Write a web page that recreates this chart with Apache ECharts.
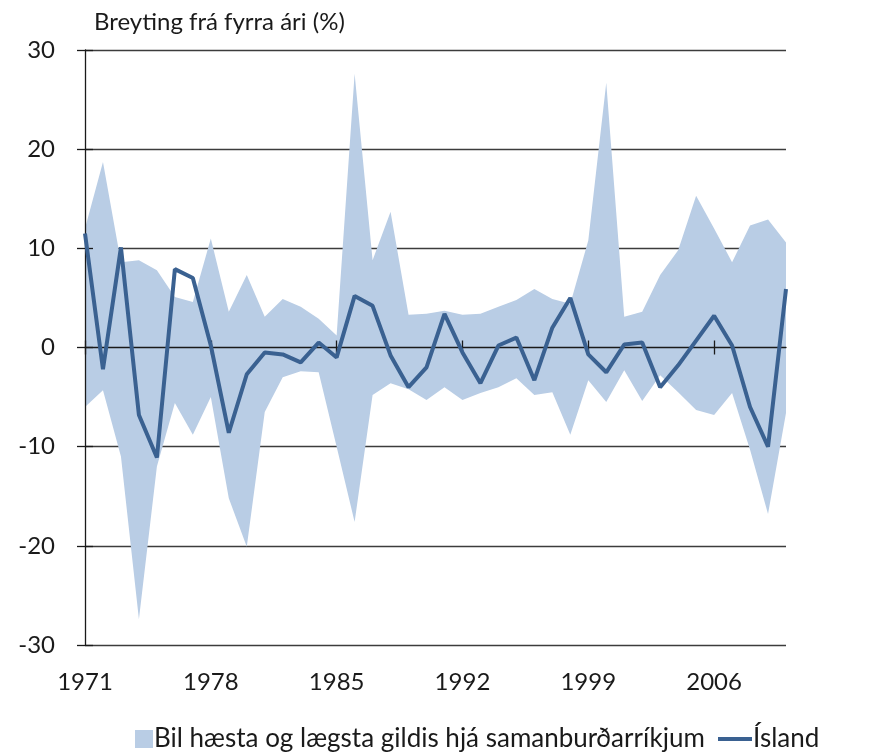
<!DOCTYPE html>
<html>
<head>
<meta charset="utf-8">
<script src="https://cdn.jsdelivr.net/npm/echarts@6/dist/echarts.min.js"></script>
<style>
html,body{margin:0;padding:0;background:#fff;}
#chart{width:883px;height:756px;}
</style>
</head>
<body>
<div id="chart"></div>
<script>
const years = ['1971','1972','1973','1974','1975','1976','1977','1978','1979','1980',
  '1981','1982','1983','1984','1985','1986','1987','1988','1989','1990',
  '1991','1992','1993','1994','1995','1996','1997','1998','1999','2000',
  '2001','2002','2003','2004','2005','2006','2007','2008','2009','2010'];

const iceland = [11.5,-2.2,10.1,-6.8,-11.1,7.9,7.0,0.2,-8.6,-2.7,
  -0.5,-0.7,-1.5,0.5,-1.0,5.2,4.2,-0.8,-4.0,-2.0,
  3.4,-0.5,-3.6,0.2,1.0,-3.3,2.0,5.0,-0.7,-2.5,
  0.3,0.5,-4.0,-1.8,0.7,3.2,0.2,-6.0,-10.0,5.9];

const bandUpper = [12.0,18.7,8.6,8.8,7.8,5.1,4.6,11.0,3.6,7.3,
  3.1,4.9,4.1,2.9,1.2,27.6,8.8,13.7,3.3,3.4,
  3.7,3.3,3.4,4.1,4.8,5.9,4.9,4.4,10.8,26.7,
  3.1,3.6,7.3,9.8,15.3,12.0,8.6,12.3,12.9,10.6];

const bandLower = [-6.0,-4.3,-11.0,-27.4,-12.0,-5.6,-8.8,-5.0,-15.2,-20.1,
  -6.5,-3.0,-2.4,-2.5,-10.0,-17.6,-4.8,-3.6,-4.2,-5.3,
  -4.0,-5.3,-4.6,-4.0,-3.1,-4.8,-4.5,-8.8,-3.3,-5.5,
  -2.3,-5.4,-2.8,-4.5,-6.3,-6.8,-4.6,-10.3,-16.8,-6.6];

const bandName = 'Bil hæsta og lægsta gildis hjá samanburðarríkjum';
const lineName = 'Ísland';
const yTitle = 'Breyting frá fyrra ári (%)';

const bandDiff = bandUpper.map((u, i) => +(u - bandLower[i]).toFixed(2));

const FONT = 'Lato';
const bandColor = '#b9cde5';
const lineColor = '#3a6191';
const axisColor = '#1a1a1a';
const gridColor = '#3c3c3c';
const textColor = '#1a1a1a';

const chart = echarts.init(document.getElementById('chart'), null, {renderer: 'canvas'});

const baseY = {type: 'value', min: -30, max: 30, interval: 10, gridIndex: 0};

chart.setOption({
  animation: false,
  backgroundColor: '#ffffff',
  textStyle: {fontFamily: FONT},
  title: {
    text: yTitle,
    left: 94, top: 6,
    padding: 0,
    textStyle: {fontFamily: FONT, fontSize: 24, fontWeight: 'normal', color: textColor, lineHeight: 32}
  },
  grid: {left: 85, right: 97, top: 50, bottom: 111, containLabel: false},
  legend: [
    {
      data: [{name: bandName, icon: 'rect'}],
      left: 135, top: 726, padding: 0,
      itemWidth: 18, itemHeight: 18, itemGap: 0,
      itemStyle: {borderWidth: 0},
      textStyle: {fontFamily: FONT, fontSize: 26, color: textColor, padding: [0,0,0,-4]},
      selectedMode: false
    },
    {
      data: [{name: lineName, icon: 'rect'}],
      left: 718, top: 726, padding: 0,
      itemWidth: 34, itemHeight: 4,
      itemStyle: {color: lineColor, borderWidth: 0},
      textStyle: {fontFamily: FONT, fontSize: 26, color: textColor, padding: [0,0,0,-4]},
      selectedMode: false
    }
  ],
  xAxis: [
    {
      type: 'category', data: years, boundaryGap: false, position: 'bottom',
      axisLine: {show: false, onZero: false},
      axisTick: {show: false},
      axisLabel: {interval: 6, fontFamily: FONT, fontSize: 24, color: textColor, margin: 25},
      splitLine: {show: false}
    },
    {
      type: 'category', data: years, boundaryGap: false, position: 'bottom', z: 10,
      axisLine: {show: true, onZero: true, lineStyle: {color: axisColor, width: 1.3}},
      axisTick: {show: true, interval: 6, inside: false, length: 7, lineStyle: {color: axisColor, width: 1.3}},
      axisLabel: {show: false},
      splitLine: {show: false}
    },
    {
      type: 'category', data: years, boundaryGap: false, position: 'bottom', z: 10,
      axisLine: {show: false, onZero: true},
      axisTick: {show: true, interval: 6, inside: true, length: 7, lineStyle: {color: axisColor, width: 1.3}},
      axisLabel: {show: false},
      splitLine: {show: false}
    }
  ],
  yAxis: [
    Object.assign({}, baseY, {
      position: 'left',
      axisLine: {show: false},
      axisTick: {show: false},
      axisLabel: {fontFamily: FONT, fontSize: 24, color: textColor, margin: 30},
      splitLine: {show: true, lineStyle: {color: gridColor, width: 1.3}}
    }),
    Object.assign({}, baseY, {
      position: 'left', z: 10,
      axisLine: {show: true, lineStyle: {color: axisColor, width: 1.3}},
      axisTick: {show: true, inside: false, length: 8, lineStyle: {color: axisColor, width: 1.3}},
      axisLabel: {show: false},
      splitLine: {show: false}
    }),
    Object.assign({}, baseY, {
      position: 'left', z: 10,
      axisLine: {show: false},
      axisTick: {show: true, inside: true, length: 8, lineStyle: {color: axisColor, width: 1.3}},
      axisLabel: {show: false},
      splitLine: {show: false}
    })
  ],
  series: [
    {
      name: '_lower', type: 'line', data: bandLower,
      xAxisIndex: 0, yAxisIndex: 0,
      stack: 'band', stackStrategy: 'all',
      symbol: 'none', silent: true,
      lineStyle: {width: 0, opacity: 0},
      z: 2
    },
    {
      name: bandName, type: 'line', data: bandDiff,
      xAxisIndex: 0, yAxisIndex: 0,
      stack: 'band', stackStrategy: 'all',
      symbol: 'none', silent: true,
      itemStyle: {color: bandColor},
      lineStyle: {width: 0, opacity: 0, color: bandColor},
      areaStyle: {color: bandColor, opacity: 1},
      z: 2
    },
    {
      name: lineName, type: 'line', data: iceland,
      xAxisIndex: 0, yAxisIndex: 0,
      symbol: 'none', silent: true,
      itemStyle: {color: lineColor},
      lineStyle: {color: lineColor, width: 4},
      z: 12
    }
  ]
});
</script>
</body>
</html>
